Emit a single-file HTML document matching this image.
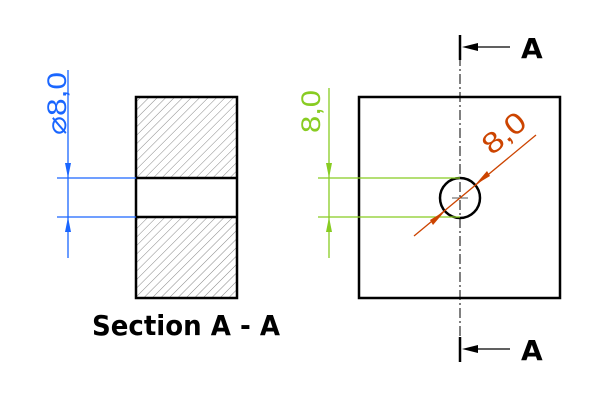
<!DOCTYPE html>
<html><head><style>body{margin:0;background:#fff}</style></head><body>
<svg width="600" height="400" xmlns="http://www.w3.org/2000/svg">
<defs>
<pattern id="h" width="6" height="6" patternUnits="userSpaceOnUse" patternTransform="rotate(45)">
<line x1="0" y1="0" x2="0" y2="6" stroke="#888" stroke-width="1"/>
</pattern>
</defs>
<rect x="136" y="97" width="101" height="81" fill="url(#h)"/>
<rect x="136" y="217" width="101" height="81" fill="url(#h)"/>
<rect x="136" y="97" width="101" height="201" fill="none" stroke="#000" stroke-width="2.5"/>
<line x1="136" y1="178" x2="237" y2="178" stroke="#000" stroke-width="2.5"/>
<line x1="136" y1="217" x2="237" y2="217" stroke="#000" stroke-width="2.5"/>
<g stroke="#1a66ff" stroke-width="1.3">
<line x1="68" y1="70" x2="68" y2="258"/>
<line x1="57" y1="178" x2="136" y2="178"/>
<line x1="57" y1="217" x2="136" y2="217"/>
</g>
<polygon points="68,178 65,163 71,163" fill="#1a66ff"/>
<polygon points="68,217 65,232 71,232" fill="#1a66ff"/>
<text transform="translate(66,135) rotate(-90)" font-family="Liberation Sans, sans-serif" font-size="27" fill="#1a66ff" textLength="63" lengthAdjust="spacingAndGlyphs">⌀8,0</text>
<text x="92" y="335" font-family="DejaVu Sans, sans-serif" font-weight="bold" font-size="28" fill="#000" textLength="188" lengthAdjust="spacingAndGlyphs">Section A - A</text>
<rect x="359" y="97" width="201" height="201" fill="none" stroke="#000" stroke-width="2.5"/>
<line x1="460" y1="38" x2="460" y2="358" stroke="#000" stroke-width="1" stroke-dasharray="10,3,2,3"/>
<circle cx="460" cy="198" r="20" fill="none" stroke="#000" stroke-width="2.5"/>
<line x1="452" y1="198" x2="468" y2="198" stroke="#555" stroke-width="1"/>
<g stroke="#88cc22" stroke-width="1.3">
<line x1="329" y1="88" x2="329" y2="258"/>
<line x1="318" y1="178" x2="460" y2="178"/>
<line x1="318" y1="217" x2="460" y2="217"/>
</g>
<polygon points="329,178 326,163 332,163" fill="#88cc22"/>
<polygon points="329,217 326,232 332,232" fill="#88cc22"/>
<text transform="translate(320,133) rotate(-90)" font-family="Liberation Sans, sans-serif" font-size="27" fill="#88cc22" textLength="43" lengthAdjust="spacingAndGlyphs">8,0</text>
<line x1="414" y1="236" x2="536" y2="135" stroke="#cc4400" stroke-width="1.3"/>
<polygon points="475,185 487,171 490,176" fill="#cc4400"/>
<polygon points="445,211 433,225 430,220" fill="#cc4400"/>
<text transform="translate(492,156) rotate(-40)" font-family="Liberation Sans, sans-serif" font-size="29" fill="#cc4400" textLength="48" lengthAdjust="spacingAndGlyphs">8,0</text>
<g stroke="#000">
<line x1="460" y1="35" x2="460" y2="60" stroke-width="2.5"/>
<line x1="470" y1="47" x2="510" y2="47" stroke-width="1.2"/>
<line x1="460" y1="337" x2="460" y2="362" stroke-width="2.5"/>
<line x1="470" y1="349" x2="510" y2="349" stroke-width="1.2"/>
</g>
<polygon points="462,47 478,43 478,51" fill="#000"/>
<polygon points="462,349 478,345 478,353" fill="#000"/>
<text x="521" y="58" font-family="DejaVu Sans, sans-serif" font-weight="bold" font-size="28" fill="#000">A</text>
<text x="521" y="360" font-family="DejaVu Sans, sans-serif" font-weight="bold" font-size="28" fill="#000">A</text>
</svg>
</body></html>
